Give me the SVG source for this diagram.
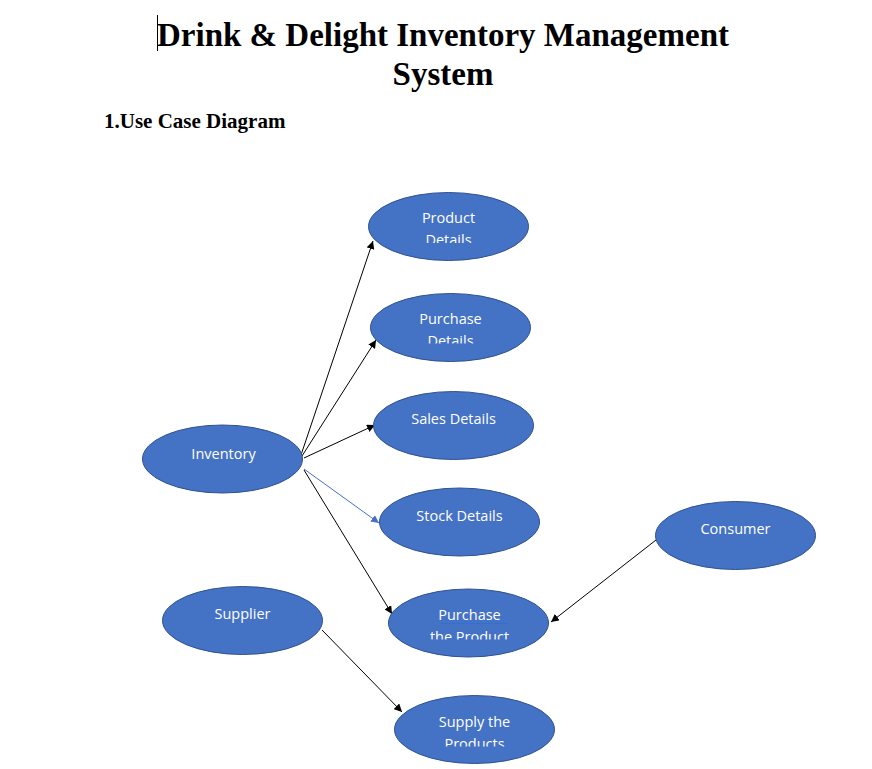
<svg xmlns="http://www.w3.org/2000/svg" width="872" height="769" viewBox="0 0 872 769">
<style>
.uc{fill:#4472c4;stroke:#2f528f;stroke-width:1}
.lb{font-family:"Open Sans","Noto Sans","Liberation Sans",sans-serif;font-size:14.5px;fill:#fff;text-anchor:middle}
.ttl{font-family:"Liberation Serif","Times New Roman",serif;font-weight:bold;fill:#000}
.c{stroke:#000;stroke-width:1;fill:none;marker-end:url(#ah)}
.cb{stroke:#4472c4;stroke-width:1;fill:none;marker-end:url(#ahb)}
</style>
<defs>
<marker id="ah" viewBox="0 0 10 10" refX="10" refY="5" markerWidth="8" markerHeight="8" orient="auto" markerUnits="userSpaceOnUse"><path d="M0,0 L10,5 L0,10 z" fill="#000"/></marker>
<marker id="ahb" viewBox="0 0 10 10" refX="10" refY="5" markerWidth="8" markerHeight="8" orient="auto" markerUnits="userSpaceOnUse"><path d="M0,0 L10,5 L0,10 z" fill="#4472c4"/></marker>
<clipPath id="k1"><rect x="360" y="190" width="180" height="53"/></clipPath>
<clipPath id="k2"><rect x="360" y="290" width="180" height="53.5"/></clipPath>
<clipPath id="k5"><rect x="380" y="585" width="180" height="54.5"/></clipPath>
<clipPath id="k6"><rect x="390" y="690" width="180" height="56.5"/></clipPath>
</defs>
<rect width="872" height="769" fill="#fff"/>
<line x1="157.5" y1="15" x2="157.5" y2="51" stroke="#000" stroke-width="1"/>
<text class="ttl" x="443" y="46" font-size="33" text-anchor="middle">Drink &amp; Delight Inventory Management</text>
<text class="ttl" x="443" y="85" font-size="33" text-anchor="middle">System</text>
<text class="ttl" x="104" y="128" font-size="21">1.Use Case Diagram</text>
<g id="connectors">
<line class="c" x1="301" y1="455" x2="373" y2="241"/>
<line class="c" x1="302" y1="456" x2="376" y2="340"/>
<line class="c" x1="304" y1="458" x2="375" y2="425"/>
<line class="cb" x1="304" y1="469" x2="379" y2="523"/>
<line class="c" x1="304" y1="470" x2="392" y2="614"/>
<line class="c" x1="656" y1="540" x2="551" y2="622"/>
<line class="c" x1="322" y1="630" x2="402" y2="712"/>
</g>
<g id="product-details"><ellipse class="uc" cx="448.5" cy="226.5" rx="80" ry="34"/><g clip-path="url(#k1)"><text class="lb" x="448.5" y="223">Product</text><text class="lb" x="448.5" y="245">Details</text></g></g>
<g id="purchase-details"><ellipse class="uc" cx="450.5" cy="327.5" rx="80" ry="34"/><g clip-path="url(#k2)"><text class="lb" x="450.5" y="324">Purchase</text><text class="lb" x="450.5" y="346">Details</text></g></g>
<g id="sales-details"><ellipse class="uc" cx="453.5" cy="425.5" rx="80" ry="34"/><text class="lb" x="453.5" y="424">Sales Details</text></g>
<g id="stock-details"><ellipse class="uc" cx="459.5" cy="522" rx="80" ry="34"/><text class="lb" x="459.5" y="521">Stock Details</text></g>
<g id="purchase-product"><ellipse class="uc" cx="468.5" cy="623" rx="80" ry="34"/><g clip-path="url(#k5)"><text class="lb" x="469.5" y="620">Purchase</text><line x1="440" y1="623.5" x2="508" y2="623.5" stroke="#2f6fd6" stroke-width="1"/><text class="lb" x="469.5" y="642">the Product</text></g></g>
<g id="supply-products"><ellipse class="uc" cx="474.5" cy="729.5" rx="80" ry="34"/><g clip-path="url(#k6)"><text class="lb" x="474.5" y="727">Supply the</text><text class="lb" x="474.5" y="749">Products</text></g></g>
<g id="inventory"><ellipse class="uc" cx="222.5" cy="459" rx="80" ry="34"/><text class="lb" x="223.5" y="459">Inventory</text></g>
<g id="supplier"><ellipse class="uc" cx="242.5" cy="620.5" rx="80" ry="34"/><text class="lb" x="242.5" y="619">Supplier</text></g>
<g id="consumer"><ellipse class="uc" cx="735.5" cy="535.5" rx="80" ry="34"/><text class="lb" x="735.5" y="534">Consumer</text></g>
</svg>
